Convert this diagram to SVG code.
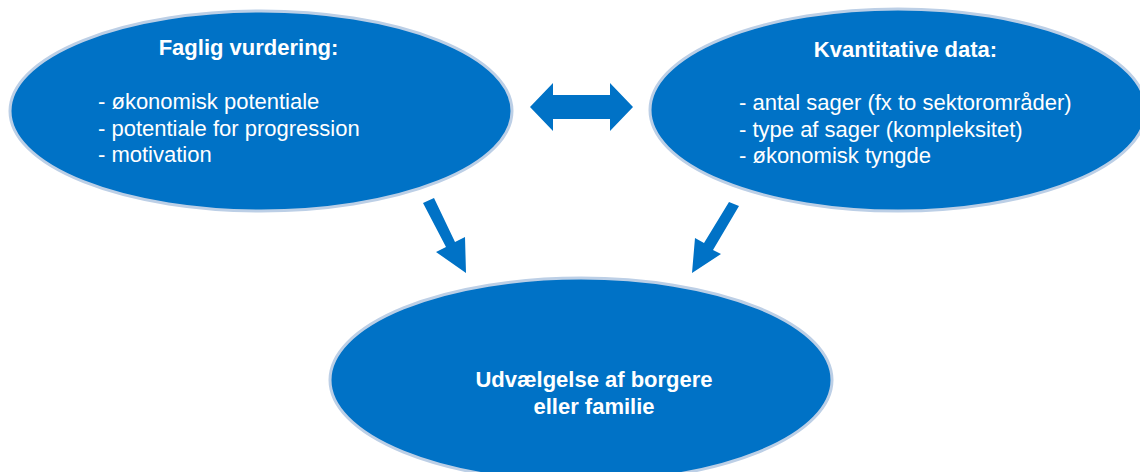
<svg xmlns="http://www.w3.org/2000/svg" width="1140" height="472" viewBox="0 0 1140 472">
<style>
.node{fill:#0072C6;stroke:#bccfe6;stroke-width:3}
.arrow{fill:#0072C6;stroke:none}
text{font-family:"Liberation Sans",Arial,sans-serif;fill:#ffffff;font-size:22px}
.title{font-weight:bold;text-anchor:middle}
</style>
<rect width="1140" height="472" fill="#ffffff"/>
<g id="connectors">
<polygon class="arrow" points="530,107 553,83 553,95 610,95 610,83 633,107 610,131 610,119 553,119 553,131"/>
<polygon class="arrow" points="423,203 434,198 455,242 465,237 466,273 436,252 446,247"/>
<polygon class="arrow" points="729,202 739,206 713,250 721,254 692,273 695,238 704,243"/>
</g>
<g id="node-faglig">
<ellipse class="node" cx="261" cy="111" rx="251" ry="100"/>
<text class="title" x="248.5" y="55">Faglig vurdering:</text>
<text x="98" y="109">- økonomisk potentiale</text>
<text x="98" y="135.5">- potentiale for progression</text>
<text x="98" y="162">- motivation</text>
</g>
<g id="node-kvantitative">
<ellipse class="node" cx="898" cy="110" rx="248" ry="101"/>
<text class="title" x="905.5" y="57">Kvantitative data:</text>
<text x="739" y="110">- antal sager (fx to sektorområder)</text>
<text x="739" y="136.5">- type af sager (kompleksitet)</text>
<text x="739" y="163">- økonomisk tyngde</text>
</g>
<g id="node-udvaelgelse">
<ellipse class="node" cx="581" cy="380" rx="251" ry="102"/>
<text class="title" x="594" y="387">Udvælgelse af borgere</text>
<text class="title" x="594" y="413.5">eller familie</text>
</g>
</svg>
